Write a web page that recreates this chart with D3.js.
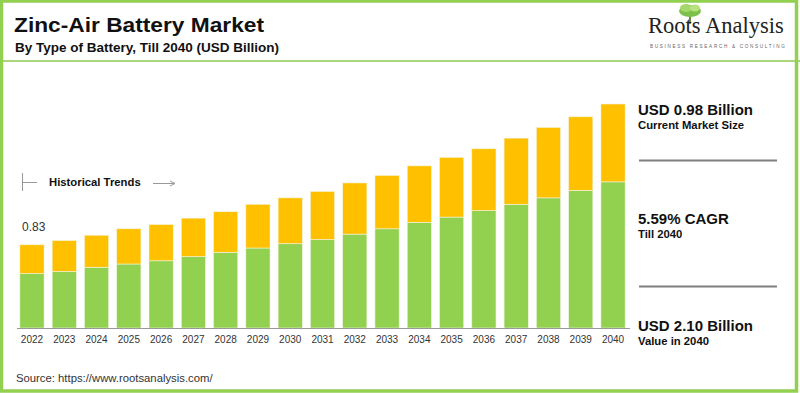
<!DOCTYPE html>
<html>
<head>
<meta charset="utf-8">
<script src="https://cdn.jsdelivr.net/npm/d3@7"></script>
<style>
  html, body { margin: 0; padding: 0; background: #fff; }
  svg { display: block; font-family: Arial, "Liberation Sans", sans-serif; }
</style>
</head>
<body>
<svg id="chart" width="800" height="393"></svg>
<script>
// data (USD billion)
const years = ['2022', '2023', '2024', '2025', '2026', '2027', '2028', '2029', '2030', '2031',
  '2032', '2033', '2034', '2035', '2036', '2037', '2038', '2039', '2040'];
const lowerValues = [0.51, 0.53, 0.57, 0.60, 0.63, 0.67, 0.71, 0.75, 0.79, 0.83,
  0.88, 0.93, 0.99, 1.04, 1.10, 1.16, 1.22, 1.29, 1.37];
const upperValues = [0.27, 0.29, 0.30, 0.33, 0.34, 0.36, 0.38, 0.41, 0.43, 0.45,
  0.48, 0.50, 0.53, 0.56, 0.58, 0.62, 0.66, 0.69, 0.73];
const seriesNames = ['lower', 'upper'];
const seriesColors = ['#92d050', '#ffc000'];
const firstLabel = '0.83';

const svg = d3.select('#chart');
const W = 800, H = 393;

const rows = years.map((y, i) => ({ year: y, lower: lowerValues[i], upper: upperValues[i] }));
const stacked = d3.stack().keys(seriesNames)(rows);

const x = d3.scaleBand()
  .domain(years)
  .range([16, 629])
  .paddingInner(0.25)
  .paddingOuter(0.12);

const y = d3.scaleLinear()
  .domain([0, 2.10])
  .range([328, 104]);

// title block
svg.append('text')
  .attr('x', 14).attr('y', 32)
  .attr('font-size', 21).attr('font-weight', 'bold').attr('fill', '#111')
  .attr('textLength', 250).attr('lengthAdjust', 'spacingAndGlyphs')
  .text('Zinc-Air Battery Market');
svg.append('text')
  .attr('x', 15).attr('y', 52)
  .attr('font-size', 13.5).attr('font-weight', 'bold').attr('fill', '#111')
  .text('By Type of Battery, Till 2040 (USD Billion)');

svg.append('line')
  .attr('x1', 0).attr('x2', W).attr('y1', 61).attr('y2', 61)
  .attr('stroke', '#a9d77a').attr('stroke-width', 2);

// logo
const logo = svg.append('g');
logo.append('rect').attr('x', 689).attr('y', 12).attr('width', 2).attr('height', 12).attr('fill', '#6b8f3a');
logo.append('ellipse').attr('cx', 690).attr('cy', 11).attr('rx', 11).attr('ry', 6).attr('fill', '#7cc24a');
logo.append('ellipse').attr('cx', 686).attr('cy', 8).attr('rx', 6).attr('ry', 4).attr('fill', '#a5d86b');
logo.append('ellipse').attr('cx', 695).attr('cy', 8).attr('rx', 5).attr('ry', 3.5).attr('fill', '#b9e27f');
logo.append('text')
  .attr('x', 648).attr('y', 33)
  .attr('font-family', '"Liberation Serif", "DejaVu Serif", serif')
  .attr('font-size', 22.5).attr('fill', '#222')
  .text('Roots Analysis');
logo.append('text')
  .attr('x', 650).attr('y', 48)
  .attr('font-size', 4.6).attr('letter-spacing', 1.7).attr('fill', '#666')
  .text('BUSINESS RESEARCH & CONSULTING');

// bars
svg.append('g')
  .selectAll('g')
  .data(stacked)
  .join('g')
  .attr('fill', (d, i) => seriesColors[i])
  .selectAll('rect')
  .data(d => d)
  .join('rect')
  .attr('x', d => x(d.data.year))
  .attr('y', d => y(d[1]))
  .attr('width', x.bandwidth())
  .attr('height', d => y(d[0]) - y(d[1]))
  .attr('stroke', '#f4f4e0')
  .attr('stroke-width', 0.6);

// axis
const xAxis = svg.append('g')
  .attr('transform', `translate(0,${y(0)})`)
  .call(d3.axisBottom(x).tickSize(0).tickPadding(8));
xAxis.select('.domain').attr('stroke', '#999').attr('d', 'M17,0.5H630');
xAxis.selectAll('text')
  .attr('font-family', 'Arial, "Liberation Sans", sans-serif')
  .attr('font-size', 10).attr('fill', '#333');

// first value label
svg.append('text')
  .attr('x', 22).attr('y', 231)
  .attr('font-size', 12).attr('fill', '#333')
  .text(firstLabel);

// historical trends marker
const ht = svg.append('g').attr('stroke', '#999').attr('stroke-width', 1);
ht.append('line').attr('x1', 22.5).attr('x2', 22.5).attr('y1', 173).attr('y2', 191);
ht.append('line').attr('x1', 22).attr('x2', 37).attr('y1', 182.5).attr('y2', 182.5);
ht.append('line').attr('x1', 153).attr('x2', 174).attr('y1', 183.5).attr('y2', 183.5);
ht.append('path').attr('d', 'M170,181 L175,183.5 L170,186').attr('fill', 'none');
svg.append('text')
  .attr('x', 49).attr('y', 186)
  .attr('font-size', 11.3).attr('font-weight', 'bold').attr('fill', '#111')
  .text('Historical Trends');

// right panel
const panel = [
  { big: 'USD 0.98 Billion', small: 'Current Market Size', y: 115 },
  { big: '5.59% CAGR', small: 'Till 2040', y: 224 },
  { big: 'USD 2.10 Billion', small: 'Value in 2040', y: 331 }
];
panel.forEach(p => {
  svg.append('text')
    .attr('x', 638).attr('y', p.y)
    .attr('font-size', 15).attr('font-weight', 'bold').attr('fill', '#111')
    .text(p.big);
  svg.append('text')
    .attr('x', 638).attr('y', p.y + 14)
    .attr('font-size', 11.3).attr('font-weight', 'bold').attr('fill', '#111')
    .text(p.small);
});
[160.5, 286.5].forEach(ly => {
  svg.append('line')
    .attr('x1', 639).attr('x2', 777).attr('y1', ly).attr('y2', ly)
    .attr('stroke', '#7f7f7f').attr('stroke-width', 2);
});

// source
svg.append('text')
  .attr('x', 16).attr('y', 382)
  .attr('font-size', 11.3).attr('fill', '#333')
  .text('Source: https://www.rootsanalysis.com/');

// outer frame
svg.append('rect')
  .attr('x', 1.5).attr('y', 1).attr('width', W - 5).attr('height', H - 3)
  .attr('fill', 'none').attr('stroke', '#92d050').attr('stroke-width', 3.5);
</script>
</body>
</html>
